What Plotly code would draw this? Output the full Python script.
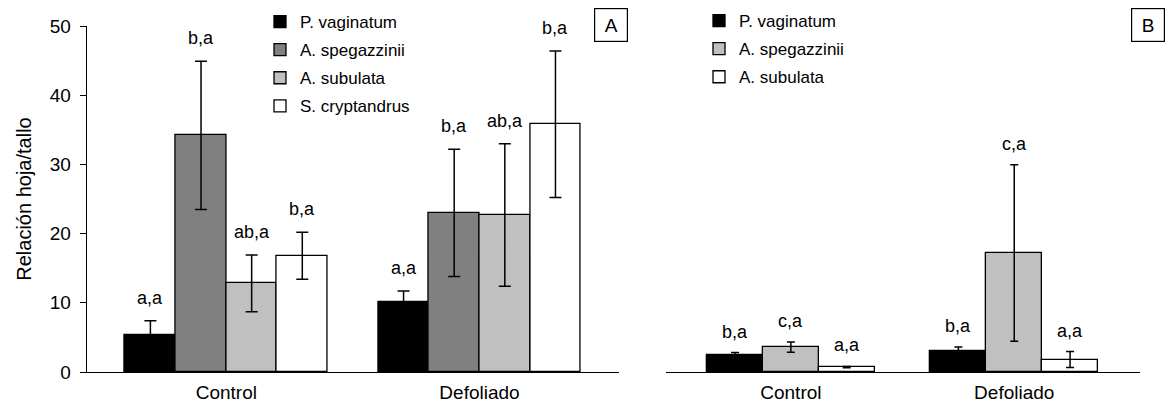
import plotly.graph_objects as go

# Data ---------------------------------------------------------------
categories = ["Control", "Defoliado"]

species_a = ["P. vaginatum", "A. spegazzinii", "A. subulata", "S. cryptandrus"]
means_a = {
    "P. vaginatum": [5.3, 10.1],
    "A. spegazzinii": [34.2, 23.0],
    "A. subulata": [12.8, 22.7],
    "S. cryptandrus": [16.8, 35.8],
}
errors_a = {
    "P. vaginatum": [2.1, 1.6],
    "A. spegazzinii": [10.7, 9.2],
    "A. subulata": [4.1, 10.3],
    "S. cryptandrus": [3.4, 10.6],
}
letters_a = {
    "P. vaginatum": ["a,a", "a,a"],
    "A. spegazzinii": ["b,a", "b,a"],
    "A. subulata": ["ab,a", "ab,a"],
    "S. cryptandrus": ["b,a", "b,a"],
}

species_b = ["P. vaginatum", "A. spegazzinii", "A. subulata"]
means_b = {
    "P. vaginatum": [2.4, 3.0],
    "A. spegazzinii": [3.6, 17.2],
    "A. subulata": [0.7, 1.8],
}
errors_b = {
    "P. vaginatum": [0.4, 0.6],
    "A. spegazzinii": [0.75, 12.75],
    "A. subulata": [0.1, 1.15],
}
letters_b = {
    "P. vaginatum": ["b,a", "b,a"],
    "A. spegazzinii": ["c,a", "c,a"],
    "A. subulata": ["a,a", "a,a"],
}

y_ticks = [0, 10, 20, 30, 40, 50]

# Styling ------------------------------------------------------------
FONT = "Arial, Liberation Sans, sans-serif"
colors_a = {
    "P. vaginatum": "#000000",
    "A. spegazzinii": "#808080",
    "A. subulata": "#c0c0c0",
    "S. cryptandrus": "#ffffff",
}
colors_b = {
    "P. vaginatum": "#000000",
    "A. spegazzinii": "#c0c0c0",
    "A. subulata": "#ffffff",
}

W, H = 1167, 408
M_TOP, M_BOT = 26, 36


def px_y(py):
    """Convert a pixel row (from the top of the page) to paper y."""
    return (H - M_BOT - py) / (H - M_TOP - M_BOT)


fig = go.Figure()
xpos = list(range(len(categories)))


def add_panel(species, means, errors, letters, colors, xaxis, yaxis,
              legend, group_width, cap, label_shift):
    n = len(species)
    w = group_width / n
    for i, sp in enumerate(species):
        off = -group_width / 2 + w * i
        fig.add_trace(go.Bar(
            x=xpos, y=means[sp], name=sp,
            width=w, offset=off,
            marker=dict(color=colors[sp], line=dict(color="black", width=1.3)),
            error_y=dict(type="data", array=errors[sp], visible=True,
                         color="black", thickness=1.5, width=cap),
            xaxis=xaxis, yaxis=yaxis, legend=legend,
            legendgroup=legend + sp,
        ))
        for j, c in enumerate(xpos):
            fig.add_annotation(
                x=c + off + w / 2, y=means[sp][j] + errors[sp][j],
                xref=xaxis, yref=yaxis, text=letters[sp][j],
                showarrow=False, yanchor="middle", yshift=label_shift,
                font=dict(family=FONT, size=18, color="black"),
            )


add_panel(species_a, means_a, errors_a, letters_a, colors_a,
          "x", "y", "legend", 0.8, 6, 23)
add_panel(species_b, means_b, errors_b, letters_b, colors_b,
          "x2", "y2", "legend2", 0.75, 4, 21)

dom_a = [86.6 / W, 619.0 / W]
dom_b = [666.0 / W, 1140.0 / W]

axis_common = dict(
    showgrid=False, zeroline=False, showline=True, linecolor="black",
    linewidth=1, tickfont=dict(family=FONT, size=19, color="black"),
)

legend_common = dict(
    xanchor="left", yanchor="top", bgcolor="rgba(0,0,0,0)",
    tracegroupgap=3, font=dict(family=FONT, size=17, color="black"),
)

fig.update_layout(
    width=W, height=H, autosize=False,
    margin=dict(l=0, r=0, t=M_TOP, b=M_BOT),
    paper_bgcolor="white", plot_bgcolor="white",
    bargap=0,
    xaxis=dict(domain=dom_a, range=[-0.552, 1.551], tickvals=xpos,
               ticktext=categories, ticks="", ticklabelstandoff=3,
               anchor="y", **axis_common),
    yaxis=dict(domain=[0, 1], range=[0, 50], tickvals=y_ticks,
               ticks="outside", ticklen=6, tickcolor="black",
               ticklabelstandoff=5, anchor="x",
               title=dict(text="Relación hoja/tallo", standoff=12,
                          font=dict(family=FONT, size=20, color="black")),
               **axis_common),
    xaxis2=dict(domain=dom_b, range=[-0.559, 1.563], tickvals=xpos,
                ticktext=categories, ticks="", ticklabelstandoff=3,
                anchor="y2", **axis_common),
    yaxis2=dict(domain=[0, 1], range=[0, 50], visible=False, anchor="x2"),
    legend=dict(x=260 / W, y=px_y(4), **legend_common),
    legend2=dict(x=699 / W, y=px_y(3), **legend_common),
    showlegend=True,
)

# Tick marks at both ends of each category axis
for xr, yr in (("x domain", "y"), ("x2 domain", "y2")):
    for xe in (0, 1):
        fig.add_shape(type="line", xref=xr, yref=yr, x0=xe, x1=xe,
                      ysizemode="pixel", yanchor=0, y0=0, y1=-7,
                      line=dict(color="black", width=1))

# Panel letters
for letter, xc in (("A", 611), ("B", 1148)):
    fig.add_annotation(
        x=xc / W, y=px_y(25), xref="paper", yref="paper",
        text=letter, showarrow=False, xanchor="center", yanchor="middle",
        width=30, height=30, borderpad=1, bordercolor="black",
        borderwidth=1.2, bgcolor="white",
        font=dict(family=FONT, size=19, color="black"),
    )

fig.write_html("out.html")
